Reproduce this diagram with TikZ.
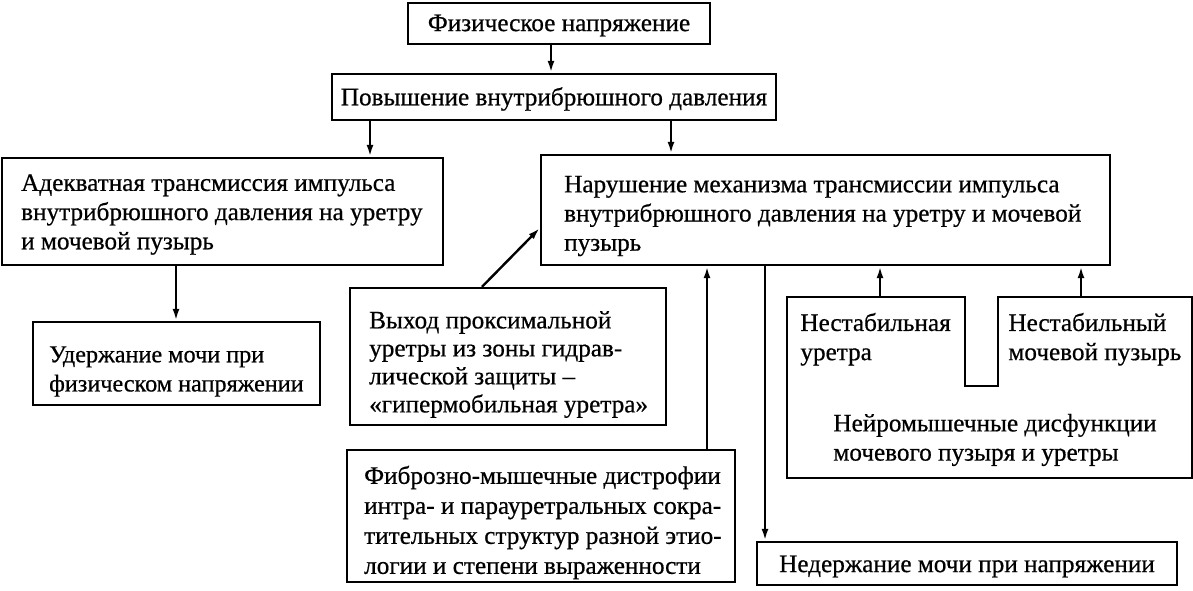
\documentclass[tikz,border=0pt]{standalone}
\usepackage{fontspec}
\setmainfont[FakeBold=0.6]{Liberation Serif}
\usetikzlibrary{arrows.meta}
\newcommand{\fs}{\fontsize{12.6pt}{14.6pt}\selectfont}
\begin{document}
\begin{tikzpicture}[x=0.5pt,y=-0.5pt,
  frame/.style={draw, line width=1.2pt, inner sep=0pt},
  arr/.style={line width=1.2pt, -{Latex[length=6pt,width=3.5pt]}},
  ctxt/.style={inner sep=0pt, font=\fs},
  ltxt/.style={inner sep=0pt, font=\fs, align=left, anchor=west},
  txt/.style={inner sep=0pt, font=\fs, align=left, anchor=north west}]
\useasboundingbox (0,0) rectangle (1193,590);
% frames
\node[frame, minimum width=151pt, minimum height=20.5pt] (fiz) at (559,23.5) {};
\node[frame, minimum width=222pt, minimum height=23pt] (pov) at (554,97) {};
\node[frame, minimum width=220.5pt, minimum height=53.5pt] (adek) at (222.5,211.5) {};
\node[frame, minimum width=284.5pt, minimum height=55pt] (nar) at (825.5,210) {};
\node[frame, minimum width=143.5pt, minimum height=41.5pt] (uder) at (176.5,363.5) {};
\node[frame, minimum width=158pt, minimum height=68.5pt] (vyh) at (508,356.5) {};
\node[frame, minimum width=194pt, minimum height=66pt] (fib) at (541,516) {};
\node[frame, minimum width=210pt, minimum height=21.5pt] (ned) at (967,563.5) {};
% texts
\node[ctxt] (fizT) at ([shift={(0,2)}]fiz.center) {Физическое напряжение};
\node[ctxt] (povT) at ([shift={(0,2)}]pov.center) {Повышение внутрибрюшного давления};
\node[ltxt] (adekT) at ([shift={(20,3)}]adek.west)
  {Адекватная трансмиссия импульса\\внутрибрюшного давления на уретру\\и мочевой пузырь};
\node[ltxt] (narT) at ([shift={(24,6)}]nar.west)
  {Нарушение механизма трансмиссии импульса\\внутрибрюшного давления на уретру и мочевой\\пузырь};
\node[ltxt, font=\fontsize{12.1pt}{14.6pt}\selectfont] (uderT) at ([shift={(17,8)}]uder.west)
  {Удержание мочи при\\физическом напряжении};
\node[ltxt, font=\fontsize{12.6pt}{14pt}\selectfont] (vyhT) at ([shift={(20,8)}]vyh.west)
  {Выход проксимальной\\уретры из зоны гидрав-\\лической защиты --\\«гипермобильная уретра»};
\node[ltxt, font=\fontsize{12.6pt}{15pt}\selectfont] (fibT) at ([shift={(18,6.5)}]fib.west)
  {Фиброзно-мышечные дистрофии\\интра- и парауретральных сокра-\\тительных структур разной этио-\\логии и степени выраженности};
\node[ctxt] (nedT) at ([shift={(0,3)}]ned.center) {Недержание мочи при напряжении};
% notched box
\draw[line width=1.2pt] (787,297) -- (965,297) -- (965,386) -- (998,386) -- (998,297) -- (1192,297) -- (1192,478) -- (787,478) -- cycle;
\coordinate (nu) at (880,297);
\coordinate (nm) at (1081,297);
\node[txt] (t1) at (800,312.5) {Нестабильная\\уретра};
\node[txt] (t2) at (1008,312.5) {Нестабильный\\мочевой пузырь};
\node[txt] (t3) at (833,413.5) {Нейромышечные дисфункции\\мочевого пузыря и уретры};
% connectors
\draw[arr] (551,0 |- fiz.south) -- (551,0 |- pov.north);
\draw[arr] (370,0 |- pov.south) -- (370,0 |- adek.north);
\draw[arr] (671,0 |- pov.south) -- (671,0 |- nar.north);
\draw[arr] (176,0 |- adek.south) -- (176,0 |- uder.north);
\draw[arr] (482,0 |- vyh.north) -- (nar.west |- 0,228);
\draw[arr] (707,0 |- fib.north) -- (707,0 |- nar.south);
\draw[arr] (765,0 |- nar.south) -- (765,0 |- ned.north);
\draw[arr] (nu) -- (nu |- nar.south);
\draw[arr] (nm) -- (nm |- nar.south);
\end{tikzpicture}
\end{document}
